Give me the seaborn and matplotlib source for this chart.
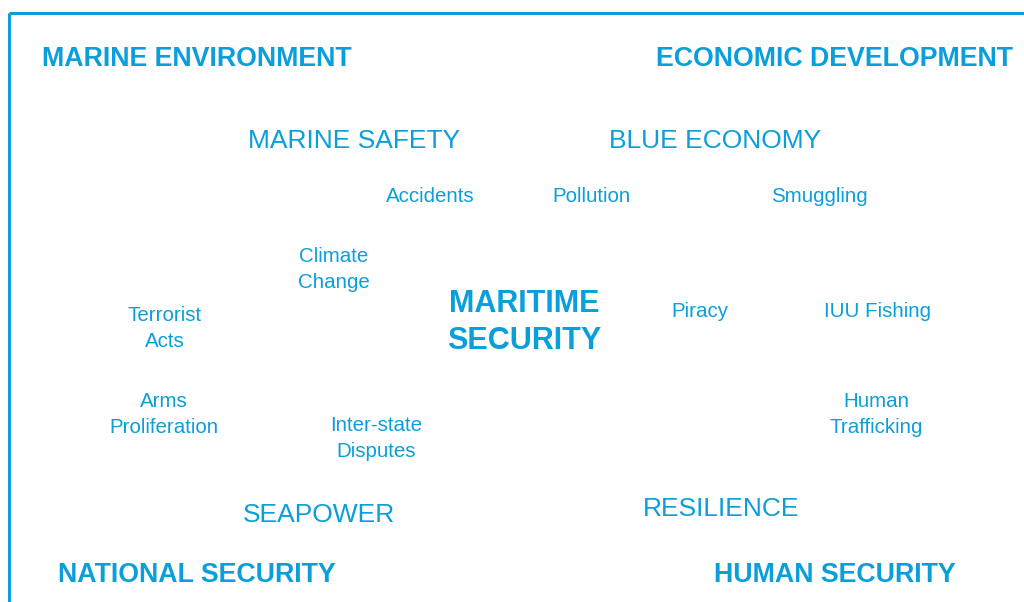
import matplotlib.pyplot as plt
import seaborn as sns

# label groups: text, plus layout (centre x, centre y in pixels)
corner_labels = ["MARINE ENVIRONMENT", "ECONOMIC DEVELOPMENT", "NATIONAL SECURITY", "HUMAN SECURITY"]
corner_pos = [(197, 57), (835, 57), (197, 572), (835, 572)]

theme_labels = ["MARINE SAFETY", "BLUE ECONOMY", "SEAPOWER", "RESILIENCE"]
theme_pos = [(354, 139), (715, 139), (319, 513), (721, 507)]

issue_labels = ["Accidents", "Pollution", "Smuggling", "Climate\nChange", "Terrorist\nActs",
                "Piracy", "IUU Fishing", "Arms\nProliferation", "Inter-state\nDisputes",
                "Human\nTrafficking"]
issue_pos = [(430, 194), (591, 194), (819, 194), (334, 267), (165, 326),
             (700, 309), (878, 309), (164, 412), (376, 436), (876, 412)]

center_label = "MARITIME\nSECURITY"
center_pos = (524, 320)

BLUE = "#0A9FDA"
DY = 2.5  # nudge: matplotlib centres on the full glyph box incl. descent

sns.set_theme(style="white")
plt.rcParams['font.family'] = ['Liberation Sans', 'DejaVu Sans']

fig = plt.figure(figsize=(10.24, 6.02), dpi=100)
ax = fig.add_axes([0, 0, 1, 1])
ax.set_xlim(0, 1024)
ax.set_ylim(602, 0)
ax.axis('off')

# frame (top and left edges only visible)
ax.plot([9, 1024], [13, 13], color=BLUE, lw=2.2, solid_capstyle='butt')
ax.plot([9, 9], [13, 602], color=BLUE, lw=2.2, solid_capstyle='butt')

for txt, (x, y) in zip(corner_labels, corner_pos):
    ax.text(x, y + DY, txt, color=BLUE, fontsize=19.3, fontweight='bold', ha='center', va='center')

for txt, (x, y) in zip(theme_labels, theme_pos):
    ax.text(x, y + DY, txt, color=BLUE, fontsize=19, ha='center', va='center')

for txt, (x, y) in zip(issue_labels, issue_pos):
    ax.text(x, y + DY, txt, color=BLUE, fontsize=14.8, ha='center', va='center', linespacing=1.45)

ax.text(center_pos[0], center_pos[1] + DY, center_label, color=BLUE, fontsize=22,
        fontweight='bold', ha='center', va='center', linespacing=1.3)

fig.savefig("out.png", dpi=100)
plt.close()
